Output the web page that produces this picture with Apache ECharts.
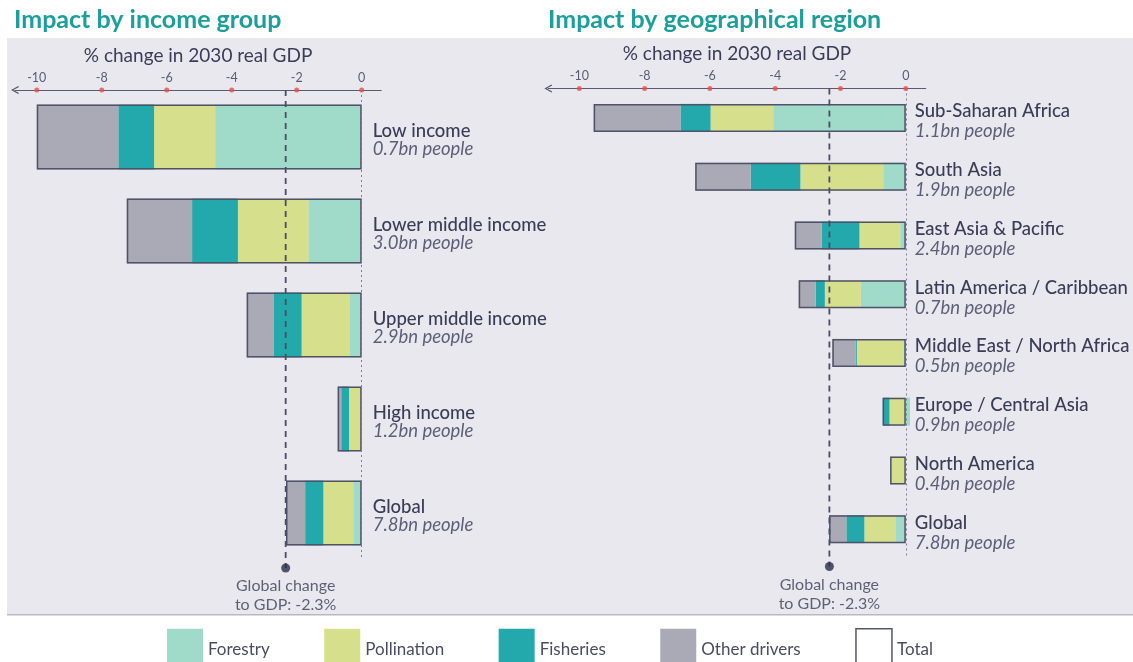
<!DOCTYPE html>
<html>
<head>
<meta charset="utf-8">
<script src="https://cdn.jsdelivr.net/npm/echarts@6/dist/echarts.min.js"></script>
<style>
  html, body { margin: 0; padding: 0; background: #fff; }
  #chart { width: 1133px; height: 662px; }
</style>
</head>
<body>
<div id="chart"></div>
<script>
// --- data (% change in 2030 real GDP) ---
const ticks = [-10, -8, -6, -4, -2, 0];
const globalChange = -2.34;

const incomeGroups = ['Low income', 'Lower middle income', 'Upper middle income', 'High income', 'Global'];
const incomePeople = ['0.7bn people', '3.0bn people', '2.9bn people', '1.2bn people', '7.8bn people'];
const incomeForestry = [-4.51, -1.64, -0.38, -0.02, -0.26];
const incomePollination = [-1.88, -2.17, -1.47, -0.37, -0.92];
const incomeFisheries = [-1.10, -1.41, -0.85, -0.24, -0.56];
const incomeOther = [-2.51, -2.01, -0.84, -0.11, -0.59];
const incomeTotal = [-10.0, -7.23, -3.54, -0.74, -2.33];

const regions = ['Sub-Saharan Africa', 'South Asia', 'East Asia & Pacific', 'Latin America / Caribbean',
  'Middle East / North Africa', 'Europe / Central Asia', 'North America', 'Global'];
const regionPeople = ['1.1bn people', '1.9bn people', '2.4bn people', '0.7bn people',
  '0.5bn people', '0.9bn people', '0.4bn people', '7.8bn people'];
const regionForestry = [-4.06, -0.69, -0.17, -1.38, -0.07, 0.13, -0.02, -0.30];
const regionPollination = [-1.92, -2.54, -1.25, -1.10, -1.43, -0.50, -0.44, -0.97];
const regionFisheries = [-0.92, -1.52, -1.16, -0.28, -0.03, -0.18, -0.01, -0.55];
const regionOther = [-2.66, -1.70, -0.82, -0.52, -0.72, -0.03, -0.01, -0.53];
const regionTotal = [-9.56, -6.45, -3.40, -3.28, -2.25, -0.71, -0.48, -2.35];

const colors = {
  forestry: '#9fdbc8',
  pollination: '#d6df8b',
  fisheries: '#23a8ab',
  other: '#a9aab6'
};
const textColor = '#3b3d58';
const font = 'Lato';
const dotLevel = -0.017; // just below the grid, where the "global change" dot sits
const chevron = 'path://M0,9L5,0L10,9L8.6,10L5,3L1.4,10Z';

function xAxisFor(idx, min, max) {
  return {
    gridIndex: idx, type: 'value', position: 'top', min: min, max: max,
    axisLine: {
      show: true, onZero: false,
      lineStyle: { color: '#595b72', width: 1.2 },
      symbol: [chevron, 'none'], symbolSize: [8, 10]
    },
    axisTick: { show: false },
    splitLine: { show: false },
    axisLabel: { customValues: ticks, margin: 6, color: '#5a5c74', fontSize: 12.5, fontFamily: font },
    name: '% change in 2030 real GDP', nameLocation: 'middle', nameGap: 25, nameMoveOverlap: false,
    nameTextStyle: { fontSize: 19, color: textColor, fontFamily: font }
  };
}

function panelSeries(idx, cats, people, forestry, pollination, fisheries, other, total, barWidth, labelGap, lineH) {
  const catAxis = idx * 2, valAxis = idx * 2 + 1;
  const parts = [
    ['Forestry', forestry, colors.forestry],
    ['Pollination', pollination, colors.pollination],
    ['Fisheries', fisheries, colors.fisheries],
    ['Other drivers', other, colors.other]
  ];
  const series = parts.map(([name, values, color]) => ({
    name: name, type: 'bar', stack: 'drivers' + idx,
    xAxisIndex: idx, yAxisIndex: catAxis, barWidth: barWidth,
    data: values, itemStyle: { color: color }, silent: true
  }));
  series.push({
    name: 'Total', type: 'bar', xAxisIndex: idx, yAxisIndex: catAxis,
    barWidth: barWidth, barGap: '-100%', data: total, z: 3, silent: true,
    itemStyle: { color: 'rgba(0,0,0,0)', borderColor: '#50526b', borderWidth: 1.5 },
    label: {
      show: true, position: 'right', distance: labelGap, align: 'left', offset: [0, 3.5],
      formatter: p => '{n|' + cats[p.dataIndex] + '}\n{p|' + people[p.dataIndex] + '}',
      rich: {
        n: { fontSize: 18.5, fontFamily: font, color: textColor, fontWeight: 500, lineHeight: lineH },
        p: { fontSize: 18.5, fontFamily: font, fontStyle: 'italic', color: '#5d5f78', lineHeight: lineH }
      }
    },
    markLine: {
      silent: true, symbol: 'none', label: { show: false },
      lineStyle: { type: [2, 3], color: '#7d7f94', width: 1 },
      data: [{ xAxis: 0 }]
    }
  });
  // red dots on the axis line
  series.push({
    type: 'scatter', xAxisIndex: idx, yAxisIndex: valAxis, clip: false, silent: true, z: 6,
    data: ticks.map(t => [t, 1]), symbolSize: 5, itemStyle: { color: '#e0504e' }
  });
  // dashed global-change guide
  series.push({
    type: 'line', xAxisIndex: idx, yAxisIndex: valAxis, clip: false, silent: true, z: 4,
    data: [[globalChange, 1], [globalChange, dotLevel]], symbol: 'none',
    lineStyle: { type: [6, 5], width: 1.8, color: '#4b4d66' }
  });
  series.push({
    type: 'scatter', xAxisIndex: idx, yAxisIndex: valAxis, clip: false, silent: true, z: 5,
    data: [[globalChange, dotLevel]], symbolSize: 9, itemStyle: { color: '#2b2d48' },
    label: {
      show: true, position: 'bottom', distance: 4,
      formatter: 'Global change\nto GDP: -2.3%',
      fontSize: 16, lineHeight: 19, color: textColor, fontFamily: font, align: 'center'
    }
  });
  return series;
}

const chart = echarts.init(document.getElementById('chart'));
chart.setOption({
  animation: false,
  backgroundColor: '#ffffff',
  graphic: [
    { type: 'rect', left: 7, top: 38, z: -10, silent: true, shape: { width: 1126, height: 577 }, style: { fill: '#e9e8ee' } },
    { type: 'rect', left: 7, top: 614, z: -9, silent: true, shape: { width: 1126, height: 1.5 }, style: { fill: '#b9b9bf' } }
  ],
  title: [
    { text: 'Impact by income group', left: 9, top: 2, textStyle: { color: '#1b9f9a', fontSize: 25, fontWeight: 'bold', fontFamily: font } },
    { text: 'Impact by geographical region', left: 543, top: 2, textStyle: { color: '#1b9f9a', fontSize: 25, fontWeight: 'bold', fontFamily: font } }
  ],
  legend: {
    top: 623, left: 162, itemWidth: 36, itemHeight: 42, itemGap: 54.5, icon: 'rect',
    selectedMode: false,
    textStyle: { fontSize: 17, color: '#4a4c63', fontFamily: font },
    data: ['Forestry', 'Pollination', 'Fisheries', 'Other drivers',
      { name: 'Total', itemStyle: { color: '#ffffff', borderColor: '#555769', borderWidth: 1.5 } }]
  },
  grid: [
    { left: 15, right: 751.8, top: 90, height: 470 },
    { left: 548.3, right: 207.3, top: 88.5, height: 470 }
  ],
  xAxis: [xAxisFor(0, -10.67, 0.6), xAxisFor(1, -10.95, 0.61)],
  yAxis: [
    { gridIndex: 0, type: 'category', inverse: true, data: incomeGroups, show: false },
    { gridIndex: 0, type: 'value', min: 0, max: 1, show: false },
    { gridIndex: 1, type: 'category', inverse: true, data: regions, show: false },
    { gridIndex: 1, type: 'value', min: 0, max: 1, show: false }
  ],
  series: [
    ...panelSeries(0, incomeGroups, incomePeople, incomeForestry, incomePollination, incomeFisheries, incomeOther, incomeTotal, 65, 11, 18),
    ...panelSeries(1, regions, regionPeople, regionForestry, regionPollination, regionFisheries, regionOther, regionTotal, 28, 9, 20)
  ]
});
</script>
</body>
</html>
